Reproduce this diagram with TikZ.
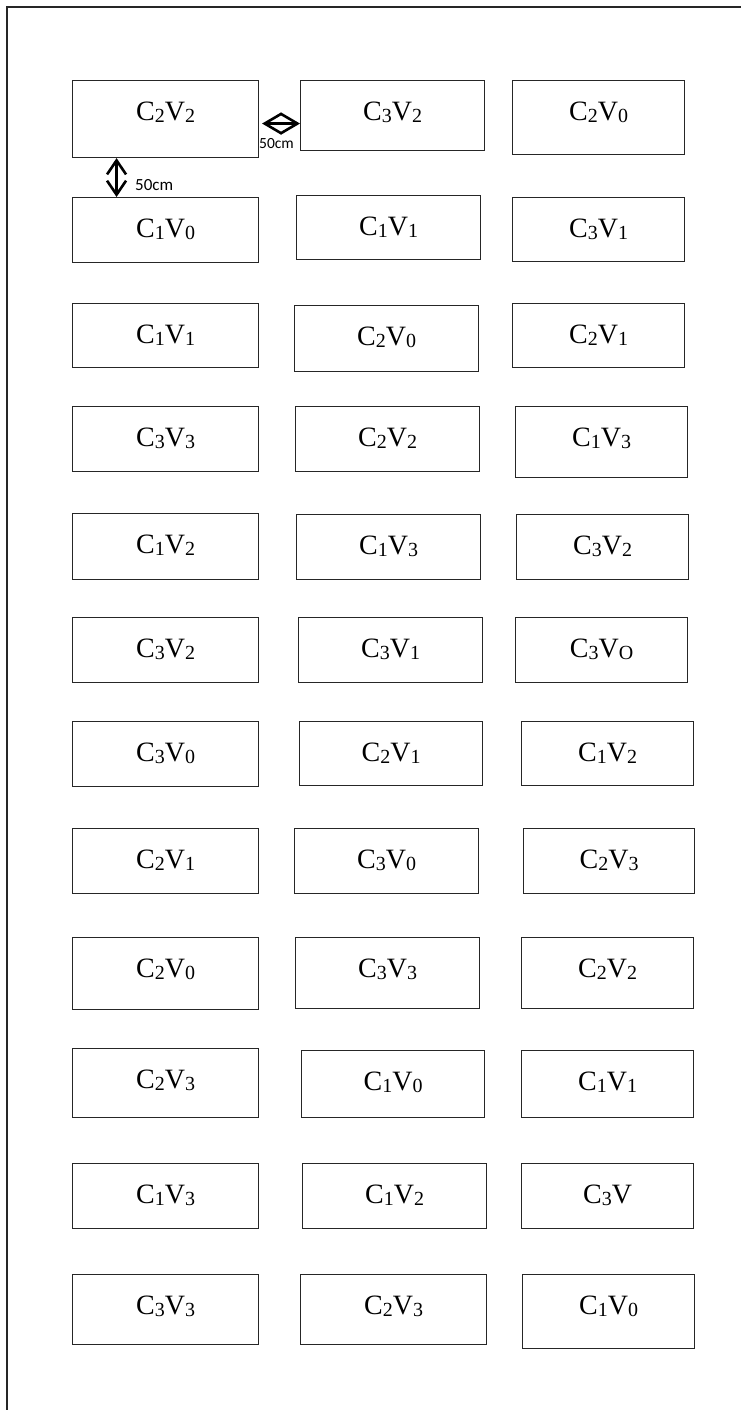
\documentclass[tikz,border=0pt]{standalone}
\usepackage{fontspec}
\setmainfont{Liberation Serif}
\newfontfamily\dimfont{Carlito}
\usetikzlibrary{arrows.meta}
\newcommand{\sbs}[1]{\raisebox{-1.8pt}{\fontsize{20}{20}\selectfont #1}}
\newcommand{\cv}[2]{C\sbs{#1}V\sbs{#2}}
\newcommand{\mkcell}[6]{%
  \pgfmathsetmacro\cw{#4-#2}%
  \pgfmathsetmacro\cd{#5-#3-40}%
  \node[cellbox, minimum width=\cw pt, text depth=\cd pt, anchor=north west] (#1) at (#2,-#3) {#6};}
\begin{document}
\begin{tikzpicture}[x=1pt,y=1pt,
  cellbox/.style={draw=black!85, line width=1.1pt, inner xsep=0pt, inner ysep=0pt,
    text height=40pt, font=\fontsize{28}{30}\selectfont, fill=white},
  frameline/.style={draw=black!85, line width=1.6pt},
  dimarrow/.style={line width=2.6pt, {Straight Barb[length=17pt,width=20pt]}-{Straight Barb[length=17pt,width=20pt]}},
  dimarrowv/.style={line width=2.6pt, {Straight Barb[length=14pt,width=19pt]}-{Straight Barb[length=14pt,width=19pt]}},
  dimlab/.style={font=\dimfont\fontsize{15.5}{16}\selectfont, inner sep=0pt}]
\useasboundingbox (0,0) rectangle (741,-1410);
\draw[frameline] (741,-7) -- (7,-7) -- (7,-1410);
% row 1
\mkcell{r1c1}{72}{80}{258}{157}{\cv{2}{2}}
\mkcell{r1c2}{300}{80}{484}{150}{\cv{3}{2}}
\mkcell{r1c3}{512}{80}{684}{154}{\cv{2}{0}}
% row 2
\mkcell{r2c1}{72}{197}{258}{262}{\cv{1}{0}}
\mkcell{r2c2}{296}{195}{480}{259}{\cv{1}{1}}
\mkcell{r2c3}{512}{197}{684}{261}{\cv{3}{1}}
% row 3
\mkcell{r3c1}{72}{303}{258}{367}{\cv{1}{1}}
\mkcell{r3c2}{294}{305}{478}{371}{\cv{2}{0}}
\mkcell{r3c3}{512}{303}{684}{367}{\cv{2}{1}}
% row 4
\mkcell{r4c1}{72}{406}{258}{471}{\cv{3}{3}}
\mkcell{r4c2}{295}{406}{479}{471}{\cv{2}{2}}
\mkcell{r4c3}{515}{406}{687}{477}{\cv{1}{3}}
% row 5
\mkcell{r5c1}{72}{513}{258}{579}{\cv{1}{2}}
\mkcell{r5c2}{296}{514}{480}{579}{\cv{1}{3}}
\mkcell{r5c3}{516}{514}{688}{579}{\cv{3}{2}}
% row 6
\mkcell{r6c1}{72}{617}{258}{682}{\cv{3}{2}}
\mkcell{r6c2}{298}{617}{482}{682}{\cv{3}{1}}
\mkcell{r6c3}{515}{617}{687}{682}{\cv{3}{O}}
% row 7
\mkcell{r7c1}{72}{721}{258}{786}{\cv{3}{0}}
\mkcell{r7c2}{299}{721}{482}{785}{\cv{2}{1}}
\mkcell{r7c3}{521}{721}{693}{785}{\cv{1}{2}}
% row 8
\mkcell{r8c1}{72}{828}{258}{893}{\cv{2}{1}}
\mkcell{r8c2}{294}{828}{478}{893}{\cv{3}{0}}
\mkcell{r8c3}{523}{828}{694}{893}{\cv{2}{3}}
% row 9
\mkcell{r9c1}{72}{937}{258}{1009}{\cv{2}{0}}
\mkcell{r9c2}{295}{937}{479}{1008}{\cv{3}{3}}
\mkcell{r9c3}{521}{937}{693}{1008}{\cv{2}{2}}
% row 10
\mkcell{r10c1}{72}{1048}{258}{1117}{\cv{2}{3}}
\mkcell{r10c2}{301}{1050}{484}{1117}{\cv{1}{0}}
\mkcell{r10c3}{521}{1050}{693}{1117}{\cv{1}{1}}
% row 11
\mkcell{r11c1}{72}{1163}{258}{1228}{\cv{1}{3}}
\mkcell{r11c2}{302}{1163}{486}{1228}{\cv{1}{2}}
\mkcell{r11c3}{521}{1163}{693}{1228}{C\sbs{3}V}
% row 12
\mkcell{r12c1}{72}{1274}{258}{1344}{\cv{3}{3}}
\mkcell{r12c2}{300}{1274}{486}{1344}{\cv{2}{3}}
\mkcell{r12c3}{522}{1274}{694}{1348}{\cv{1}{0}}
% dimension arrows
\draw[dimarrow] ([shift={(3,-4.5)}]r1c1.east) -- ([yshift=-8]r1c2.west);
\draw[dimarrowv] ([xshift=-49]r1c1.south) -- ([xshift=-49]r2c1.north);
\node[dimlab, anchor=base west] (lh) at (259,-148) {50cm};
\node[dimlab, anchor=base west, font=\dimfont\fontsize{17}{18}\selectfont] (lv) at (135,-190) {50cm};
\end{tikzpicture}
\end{document}
